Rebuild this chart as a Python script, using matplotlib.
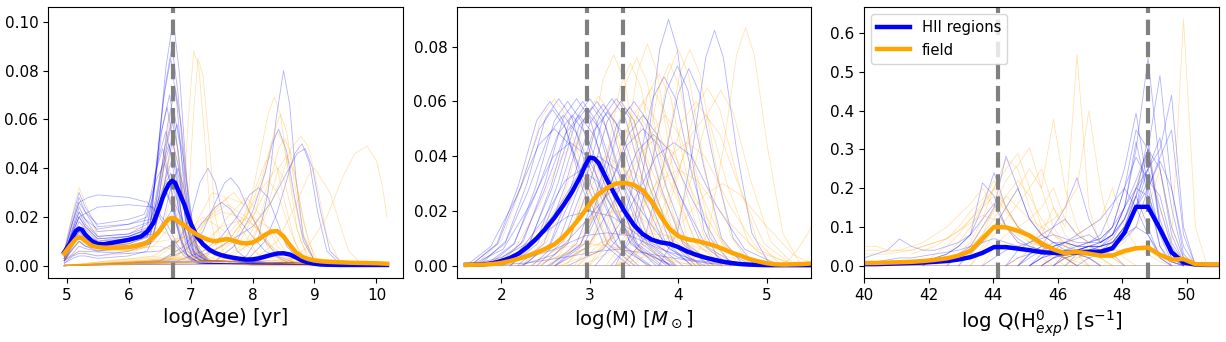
import matplotlib.pyplot as plt

# ---------------- log(Age) panel ----------------
age_x = [4.96, 5.05, 5.1, 5.15, 5.2, 5.25, 5.3, 5.4, 5.5, 5.6, 5.8, 6.0, 6.2, 6.3, 6.4, 6.5,
         6.55, 6.6, 6.65, 6.7, 6.75, 6.8, 6.9, 7.0, 7.1, 7.2, 7.3, 7.4, 7.5, 7.6, 7.7, 7.8,
         7.9, 8.0, 8.1, 8.2, 8.3, 8.4, 8.5, 8.6, 8.7, 8.8, 8.9, 9.0, 9.1, 9.2, 9.4, 9.6,
         9.8, 10.0, 10.17]
age_hii = [.0055, .009, .012, .0143, .0152, .0147, .0128, .0102, .0089, .0088, .0097, .0106,
           .0120, .0140, .0175, .0240, .0280, .0310, .0335, .0348, .0340, .0310, .0250, .0175,
           .0120, .0088, .0066, .0052, .0043, .0037, .0032, .0028, .0025, .0026, .0030, .0037,
           .0044, .0050, .0051, .0046, .0034, .0021, .0013, .0008, .0005, .0004, .0003, .0003,
           .0003, .0003, .0003]
age_field = [.0050, .0080, .0095, .0110, .0116, .0113, .0102, .0083, .0076, .0074, .0074, .0076,
             .0086, .0096, .0118, .0143, .0160, .0178, .0192, .0196, .0192, .0182, .0165, .0145,
             .0128, .0115, .0105, .0100, .0106, .0109, .0102, .0094, .0091, .0095, .0108, .0126,
             .0140, .0142, .0120, .0085, .0055, .0037, .0027, .0021, .0018, .0016, .0014, .0012,
             .0011, .0010, .0008]
age_lines = [6.71]

age_hii_thin = [
    ([4.96, 5.1, 5.2, 5.3, 5.5, 6.0, 6.35, 6.47, 6.6, 6.72, 6.82, 6.94, 7.07, 7.27, 10.17],
     [.004, .016, .024, .019, .012, .013, .016, .045, .081, .101, .079, .035, .010, .002, 0]),
    ([4.96, 5.1, 5.2, 5.3, 5.5, 6.0, 6.35, 6.45, 6.58, 6.70, 6.80, 6.92, 7.05, 7.25, 10.17],
     [.003, .012, .018, .015, .010, .012, .015, .040, .072, .090, .070, .032, .009, .002, 0]),
    ([4.96, 5.1, 5.2, 5.3, 5.5, 6.0, 6.35, 6.43, 6.56, 6.68, 6.78, 6.90, 7.03, 7.23, 10.17],
     [.005, .019, .028, .022, .014, .015, .018, .038, .068, .085, .066, .030, .009, .002, 0]),
    ([4.96, 5.1, 5.2, 5.3, 5.5, 6.0, 6.35, 6.50, 6.63, 6.75, 6.85, 6.97, 7.10, 7.30, 10.17],
     [.002, .008, .012, .010, .008, .010, .014, .033, .058, .073, .057, .026, .007, .002, 0]),
    ([4.96, 5.1, 5.2, 5.3, 5.5, 6.0, 6.3, 6.40, 6.50, 6.62, 6.72, 6.84, 6.97, 7.17, 10.17],
     [.004, .015, .022, .017, .012, .013, .017, .030, .052, .065, .051, .023, .007, .002, 0]),
    ([4.96, 5.1, 5.2, 5.3, 5.5, 6.0, 6.35, 6.45, 6.58, 6.70, 6.80, 6.92, 7.05, 7.25, 10.17],
     [.003, .010, .015, .012, .009, .011, .014, .027, .048, .060, .047, .021, .006, .002, 0]),
    ([4.96, 5.1, 5.2, 5.3, 5.5, 6.0, 6.3, 6.38, 6.48, 6.60, 6.70, 6.82, 6.95, 7.15, 10.17],
     [.006, .021, .030, .024, .016, .017, .020, .028, .044, .055, .043, .020, .006, .002, 0]),
    ([4.96, 5.1, 5.2, 5.3, 5.5, 6.0, 6.3, 6.40, 6.53, 6.65, 6.75, 6.87, 7.00, 7.20, 10.17],
     [.002, .007, .010, .008, .007, .009, .012, .023, .040, .050, .039, .018, .005, .002, 0]),
    ([4.96, 5.1, 5.2, 5.3, 5.5, 6.0, 6.2, 6.30, 6.43, 6.55, 6.65, 6.77, 6.90, 7.10, 10.17],
     [.004, .014, .020, .016, .011, .012, .014, .022, .038, .048, .037, .017, .005, .002, 0]),
    ([4.96, 5.1, 5.2, 5.3, 5.5, 6.0, 6.35, 6.47, 6.60, 6.72, 6.82, 6.94, 7.07, 7.27, 10.17],
     [.003, .011, .016, .013, .010, .011, .013, .022, .036, .045, .035, .016, .005, .002, 0]),
    ([4.96, 5.1, 5.2, 5.35, 5.5, 6.0, 6.3, 6.5, 6.7, 6.9, 7.1, 10.17],
     [.006, .018, .026, .028, .029, .028, .026, .020, .010, .004, .001, 0]),
    ([4.96, 5.1, 5.2, 5.35, 5.5, 6.0, 6.4, 6.6, 6.8, 7.0, 7.2, 10.17],
     [.004, .014, .020, .022, .024, .025, .024, .018, .008, .003, .001, 0]),
    ([4.96, 5.1, 5.2, 5.3, 5.5, 6.0, 6.4, 6.55, 6.68, 6.80, 6.90, 7.02, 7.15, 7.35, 10.17],
     [.002, .005, .008, .007, .006, .008, .011, .018, .032, .040, .031, .014, .004, .001, 0]),
    ([4.96, 5.1, 5.2, 5.3, 5.5, 6.0, 6.35, 6.43, 6.56, 6.68, 6.78, 6.90, 7.03, 7.23, 10.17],
     [.001, .004, .005, .005, .004, .006, .009, .016, .028, .035, .027, .012, .004, .001, 0]),
    ([4.96, 5.1, 5.2, 5.3, 5.5, 6.0, 6.3, 6.38, 6.48, 6.60, 6.70, 6.82, 6.95, 7.15, 10.17],
     [.003, .010, .014, .012, .009, .010, .012, .018, .025, .030, .024, .012, .004, .001, 0]),
    ([4.96, 5.1, 5.2, 5.3, 5.5, 6.0, 6.35, 6.50, 6.63, 6.75, 6.85, 6.97, 7.10, 7.30, 10.17],
     [.002, .007, .010, .008, .006, .007, .009, .013, .020, .025, .020, .010, .003, .001, 0]),
    ([4.96, 5.1, 5.2, 5.3, 5.5, 6.0, 6.3, 6.41, 6.54, 6.66, 6.76, 6.88, 7.01, 7.21, 10.17],
     [.003, .013, .020, .016, .011, .012, .015, .031, .056, .070, .055, .025, .007, .002, 0]),
    ([4.96, 5.1, 5.2, 5.3, 5.5, 6.0, 6.35, 6.49, 6.62, 6.74, 6.84, 6.96, 7.09, 7.29, 10.17],
     [.003, .011, .016, .013, .009, .011, .013, .028, .050, .062, .048, .022, .006, .002, 0]),
    ([4.96, 5.1, 5.2, 5.3, 5.5, 6.0, 6.25, 6.33, 6.46, 6.58, 6.68, 6.80, 6.93, 7.13, 10.17],
     [.005, .018, .026, .022, .017, .019, .021, .026, .036, .042, .033, .016, .005, .001, 0]),
    ([4.96, 5.1, 5.2, 5.3, 5.5, 6.0, 6.35, 6.45, 6.58, 6.70, 6.80, 6.92, 7.05, 7.25, 10.17],
     [.002, .009, .013, .011, .008, .009, .012, .023, .042, .052, .041, .018, .005, .002, 0]),
    ([4.96, 5.1, 5.2, 5.3, 5.5, 6.0, 6.4, 6.53, 6.66, 6.78, 6.88, 7.00, 7.13, 7.33, 10.17],
     [.002, .009, .014, .011, .008, .010, .013, .026, .046, .058, .045, .020, .006, .002, 0]),
    ([4.96, 5.1, 5.2, 5.3, 5.5, 6.0, 6.35, 6.43, 6.56, 6.68, 6.78, 6.90, 7.03, 7.23, 10.17],
     [.004, .015, .022, .019, .015, .017, .019, .024, .032, .038, .030, .014, .004, .001, 0]),
    ([4.96, 5.1, 5.2, 5.3, 5.5, 6.0, 6.3, 6.40, 6.50, 6.62, 6.72, 6.84, 6.97, 7.17, 10.17],
     [.001, .003, .004, .004, .003, .004, .006, .012, .024, .030, .024, .011, .003, .001, 0]),
    ([4.96, 7.6, 7.9, 8.1, 8.25, 8.38, 8.5, 8.6, 8.7, 8.82, 9.0, 10.17],
     [0, .001, .004, .012, .030, .060, .080, .066, .036, .012, .002, 0]),
    ([4.96, 7.4, 7.7, 8.0, 8.2, 8.32, 8.42, 8.55, 8.68, 8.82, 9.0, 10.17],
     [0, .002, .008, .022, .038, .050, .056, .047, .028, .010, .002, 0]),
    ([4.96, 7.9, 8.2, 8.4, 8.55, 8.68, 8.8, 8.92, 9.05, 9.2, 9.4, 10.17],
     [0, .002, .010, .022, .035, .046, .050, .042, .022, .006, .001, 0]),
    ([4.96, 7.0, 7.5, 8.0, 8.3, 8.55, 8.72, 8.85, 8.97, 9.1, 9.25, 9.45, 10.17],
     [0, .002, .008, .016, .026, .038, .046, .048, .040, .022, .006, .001, 0]),
    ([4.96, 5.2, 6.0, 6.5, 6.8, 7.0, 7.15, 7.28, 7.4, 7.55, 7.75, 8.0, 10.17],
     [.002, .006, .005, .006, .010, .020, .034, .040, .034, .018, .006, .001, 0]),
    ([4.96, 6.5, 6.9, 7.2, 7.4, 7.55, 7.65, 7.78, 7.95, 8.15, 8.4, 8.7, 10.17],
     [0, .002, .006, .014, .026, .034, .036, .032, .022, .012, .004, .001, 0]),
    ([4.96, 6.8, 7.2, 7.5, 7.75, 7.95, 8.1, 8.25, 8.4, 8.55, 8.8, 10.17],
     [0, .002, .006, .012, .020, .029, .032, .028, .018, .008, .001, 0]),
    ([4.96, 6.5, 6.9, 7.2, 7.4, 7.5, 7.65, 7.9, 8.2, 8.6, 10.17],
     [0, .002, .008, .018, .024, .026, .023, .015, .006, .001, 0]),
    ([4.96, 10.17], [.0005, .0005]),
]

age_field_thin = [
    ([4.96, 5.1, 5.2, 5.3, 5.5, 6.0, 6.5, 6.8, 7.2, 8.0, 10.17],
     [.006, .022, .032, .026, .012, .007, .008, .006, .002, 0, 0]),
    ([4.96, 5.1, 5.2, 5.3, 5.5, 6.0, 6.4, 6.6, 6.72, 6.85, 7.0, 7.4, 8.0, 10.17],
     [.004, .016, .025, .018, .010, .006, .008, .014, .020, .016, .010, .004, 0, 0]),
    ([4.96, 5.2, 5.5, 6.0, 6.3, 6.5, 6.63, 6.75, 6.85, 6.97, 7.1, 7.3, 10.17],
     [.002, .006, .004, .005, .008, .020, .055, .074, .058, .026, .008, .002, 0]),
    ([4.96, 5.2, 5.5, 6.0, 6.3, 6.47, 6.58, 6.70, 6.80, 6.92, 7.05, 7.25, 10.17],
     [.003, .012, .007, .006, .009, .022, .046, .060, .047, .021, .007, .002, 0]),
    ([4.96, 5.2, 5.5, 6.0, 6.25, 6.38, 6.48, 6.60, 6.70, 6.82, 6.95, 7.15, 10.17],
     [.003, .016, .009, .009, .012, .020, .034, .045, .035, .016, .006, .002, 0]),
    ([4.96, 5.2, 5.5, 6.0, 6.3, 6.5, 6.6, 6.72, 6.82, 6.94, 7.07, 7.27, 10.17],
     [.002, .010, .006, .006, .008, .018, .038, .050, .039, .018, .006, .002, 0]),
    ([4.96, 5.2, 5.5, 6.0, 6.4, 6.58, 6.68, 6.8, 6.9, 7.02, 7.15, 7.35, 10.17],
     [.003, .014, .008, .008, .010, .018, .028, .035, .028, .014, .005, .002, 0]),
    ([4.96, 6.5, 6.75, 6.88, 6.97, 7.05, 7.13, 7.22, 7.32, 7.45, 10.17],
     [0, .001, .006, .025, .062, .088, .082, .055, .020, .003, 0]),
    ([4.96, 6.6, 6.85, 6.97, 7.05, 7.12, 7.2, 7.3, 7.4, 7.55, 10.17],
     [0, .001, .008, .030, .063, .085, .078, .050, .020, .003, 0]),
    ([4.96, 7.3, 7.7, 7.95, 8.12, 8.25, 8.35, 8.45, 8.57, 8.72, 8.9, 10.17],
     [0, .002, .010, .024, .045, .062, .069, .062, .040, .015, .002, 0]),
    ([4.96, 7.4, 7.8, 8.05, 8.22, 8.35, 8.45, 8.55, 8.67, 8.82, 9.0, 10.17],
     [0, .002, .010, .022, .040, .055, .062, .055, .035, .013, .002, 0]),
    ([4.96, 7.2, 7.6, 7.9, 8.15, 8.3, 8.4, 8.5, 8.62, 8.78, 8.95, 10.17],
     [0, .003, .010, .020, .036, .050, .055, .050, .034, .014, .003, 0]),
    ([4.96, 7.5, 7.9, 8.15, 8.3, 8.42, 8.52, 8.62, 8.75, 8.9, 9.05, 10.17],
     [0, .002, .010, .022, .036, .048, .052, .046, .028, .010, .002, 0]),
    ([4.96, 7.0, 7.5, 7.85, 8.05, 8.2, 8.3, 8.4, 8.52, 8.68, 8.85, 10.17],
     [0, .003, .010, .020, .032, .042, .045, .040, .026, .010, .002, 0]),
    ([4.96, 7.2, 7.7, 8.0, 8.2, 8.3, 8.4, 8.5, 8.62, 8.78, 8.95, 10.17],
     [0, .004, .010, .020, .030, .037, .040, .036, .024, .010, .002, 0]),
    ([4.96, 7.2, 7.6, 7.9, 8.1, 8.25, 8.4, 8.6, 8.8, 10.17],
     [0, .003, .010, .020, .030, .035, .030, .015, .003, 0]),
    ([4.96, 7.6, 8.0, 8.25, 8.42, 8.55, 8.68, 8.82, 9.0, 10.17],
     [0, .002, .010, .025, .040, .045, .038, .018, .003, 0]),
    ([4.96, 7.5, 7.9, 8.2, 8.45, 8.62, 8.78, 8.9, 9.05, 9.2, 9.4, 10.17],
     [0, .002, .008, .020, .035, .048, .053, .049, .032, .012, .002, 0]),
    ([4.96, 8.0, 8.4, 8.7, 8.9, 9.0, 9.1, 9.25, 9.4, 9.55, 9.75, 10.17],
     [0, .002, .010, .025, .037, .040, .036, .030, .018, .006, .001, 0]),
    ([4.96, 8.6, 8.9, 9.2, 9.45, 9.65, 9.85, 10.0, 10.1, 10.17],
     [0, .002, .008, .020, .036, .046, .049, .043, .032, .020]),
    ([4.96, 6.6, 6.9, 7.3, 7.6, 7.9, 8.2, 8.5, 10.17],
     [0, .002, .006, .020, .028, .025, .010, .001, 0]),
    ([4.96, 6.7, 7.0, 7.4, 7.7, 8.0, 8.3, 8.6, 10.17],
     [0, .003, .008, .024, .030, .020, .005, .001, 0]),
    ([4.96, 6.4, 6.8, 7.2, 7.5, 7.8, 8.1, 8.4, 8.7, 10.17],
     [0, .004, .010, .018, .022, .020, .015, .005, .001, 0]),
    ([4.96, 6.6, 7.0, 7.5, 8.0, 8.3, 8.6, 10.17],
     [0, .002, .005, .016, .020, .015, .003, 0]),
    ([4.96, 6.5, 6.9, 7.2, 7.5, 7.8, 8.2, 10.17],
     [0, .004, .012, .020, .015, .010, .003, 0]),
    ([4.96, 6.9, 7.3, 7.6, 7.9, 8.15, 8.4, 8.7, 10.17],
     [0, .003, .010, .020, .028, .020, .008, .001, 0]),
    ([4.96, 5.1, 5.2, 5.35, 5.5, 6.0, 6.4, 6.7, 7.0, 7.5, 8.0, 10.17],
     [.004, .012, .018, .015, .014, .015, .016, .012, .006, .002, 0, 0]),
    ([4.96, 5.2, 5.5, 6.0, 6.5, 7.0, 7.3, 7.6, 7.9, 8.3, 8.7, 10.17],
     [.003, .010, .008, .009, .010, .012, .020, .025, .020, .008, .001, 0]),
    ([4.96, 6.8, 7.1, 7.35, 7.55, 7.8, 8.1, 10.17],
     [0, .004, .018, .030, .028, .016, .004, 0]),
    ([4.96, 10.17], [.0005, .0005]),
]

# ---------------- log(M) panel ----------------
mass_x = [1.6, 1.8, 1.9, 2.0, 2.1, 2.2, 2.3, 2.4, 2.5, 2.6, 2.7, 2.8, 2.9, 2.95, 3.0, 3.05,
          3.1, 3.2, 3.3, 3.4, 3.5, 3.6, 3.7, 3.8, 3.9, 4.0, 4.1, 4.2, 4.3, 4.4, 4.5, 4.6,
          4.7, 4.8, 4.9, 5.0, 5.1, 5.2, 5.3, 5.4, 5.5]
mass_hii = [.0003, .0005, .0009, .0017, .0028, .0045, .0070, .0100, .0135, .0175, .0220, .0270,
            .0330, .0368, .0395, .0392, .0375, .0310, .0250, .0195, .0148, .0115, .0095, .0085,
            .0080, .0068, .0052, .0040, .0030, .0022, .0015, .0010, .0006, .0004, .0003, .0002,
            .0002, .0002, .0002, .0002, .0002]
mass_field = [.0003, .0004, .0006, .0010, .0017, .0026, .0036, .0048, .0062, .0078, .0105, .0140,
              .0180, .0203, .0225, .0245, .0262, .0285, .0300, .0302, .0295, .0275, .0235, .0182,
              .0135, .0108, .0097, .0091, .0083, .0074, .0062, .0048, .0037, .0025, .0016, .0009,
              .0005, .0004, .0005, .0006, .0008]
mass_lines = [2.97, 3.37]
mass_ticks = [2, 3, 4, 5]

mass_hii_thin = [
    ([1.65, 1.95, 2.19, 2.40, 2.55, 2.70, 2.91, 3.15, 3.45], [0, .008, .029, .053, .060, .053, .029, .008, 0]),
    ([1.75, 2.05, 2.29, 2.50, 2.65, 2.80, 3.01, 3.25, 3.55], [0, .009, .030, .054, .061, .054, .030, .009, 0]),
    ([1.60, 1.88, 2.17, 2.42, 2.60, 2.78, 3.03, 3.32, 3.68], [0, .007, .025, .044, .050, .044, .025, .007, 0]),
    ([1.85, 2.15, 2.39, 2.60, 2.75, 2.90, 3.11, 3.35, 3.65], [0, .008, .029, .053, .060, .053, .029, .008, 0]),
    ([1.81, 2.14, 2.40, 2.64, 2.80, 2.96, 3.20, 3.46, 3.79], [0, .008, .027, .048, .055, .048, .027, .008, 0]),
    ([1.95, 2.25, 2.49, 2.70, 2.85, 3.00, 3.21, 3.45, 3.75], [0, .009, .030, .054, .061, .054, .030, .009, 0]),
    ([2.02, 2.32, 2.56, 2.77, 2.92, 3.07, 3.28, 3.52, 3.82], [0, .008, .029, .053, .060, .053, .029, .008, 0]),
    ([1.99, 2.31, 2.57, 2.79, 2.95, 3.11, 3.33, 3.59, 3.91], [0, .008, .028, .050, .057, .050, .028, .008, 0]),
    ([2.10, 2.40, 2.64, 2.85, 3.00, 3.15, 3.36, 3.60, 3.90], [0, .009, .030, .054, .061, .054, .030, .009, 0]),
    ([2.18, 2.48, 2.72, 2.93, 3.08, 3.23, 3.44, 3.68, 3.98], [0, .008, .029, .053, .060, .053, .029, .008, 0]),
    ([2.25, 2.55, 2.79, 3.00, 3.15, 3.30, 3.51, 3.75, 4.05], [0, .008, .029, .052, .059, .052, .029, .008, 0]),
    ([2.35, 2.65, 2.89, 3.10, 3.25, 3.40, 3.61, 3.85, 4.15], [0, .009, .030, .054, .061, .054, .030, .009, 0]),
    ([2.45, 2.75, 2.99, 3.20, 3.35, 3.50, 3.71, 3.95, 4.25], [0, .008, .029, .053, .060, .053, .029, .008, 0]),
    ([2.55, 2.85, 3.09, 3.30, 3.45, 3.60, 3.81, 4.05, 4.35], [0, .008, .028, .051, .058, .051, .028, .008, 0]),
    ([1.71, 2.04, 2.30, 2.54, 2.70, 2.86, 3.10, 3.36, 3.69], [0, .008, .027, .048, .055, .048, .027, .008, 0]),
    ([2.52, 2.88, 3.17, 3.42, 3.60, 3.78, 4.03, 4.32, 4.68], [0, .007, .025, .044, .050, .044, .025, .007, 0]),
    ([2.61, 2.98, 3.28, 3.54, 3.72, 3.90, 4.16, 4.46, 4.83], [0, .007, .024, .042, .048, .042, .024, .007, 0]),
    ([3.29, 3.49, 3.65, 3.79, 3.89, 3.99, 4.13, 4.29, 4.49], [0, .013, .044, .079, .090, .079, .044, .013, 0]),
    ([3.78, 3.99, 4.16, 4.31, 4.41, 4.51, 4.66, 4.83, 5.04], [0, .012, .042, .076, .086, .076, .042, .012, 0]),
    ([3.24, 3.49, 3.69, 3.87, 3.99, 4.11, 4.29, 4.49, 4.74], [0, .010, .036, .064, .073, .064, .036, .010, 0]),
    ([3.37, 3.62, 3.82, 4.00, 4.12, 4.24, 4.42, 4.62, 4.87], [0, .010, .035, .063, .072, .063, .035, .010, 0]),
    ([3.06, 3.32, 3.53, 3.71, 3.84, 3.97, 4.15, 4.36, 4.62], [0, .010, .034, .061, .069, .061, .034, .010, 0]),
    ([2.60, 2.90, 3.14, 3.35, 3.50, 3.65, 3.86, 4.10, 4.40], [0, .008, .029, .053, .060, .053, .029, .008, 0]),
    ([1.65, 1.96, 2.21, 2.43, 2.58, 2.73, 2.95, 3.20, 3.51], [0, .008, .028, .050, .057, .050, .028, .008, 0]),
    ([1.89, 2.22, 2.48, 2.72, 2.88, 3.04, 3.28, 3.54, 3.87], [0, .008, .027, .048, .055, .048, .027, .008, 0]),
    ([2.10, 2.41, 2.66, 2.88, 3.03, 3.18, 3.40, 3.65, 3.96], [0, .008, .028, .051, .058, .051, .028, .008, 0]),
    ([2.24, 2.56, 2.82, 3.04, 3.20, 3.36, 3.58, 3.84, 4.16], [0, .008, .027, .049, .056, .049, .027, .008, 0]),
    ([2.40, 2.70, 2.94, 3.15, 3.30, 3.45, 3.66, 3.90, 4.20], [0, .009, .030, .054, .061, .054, .030, .009, 0]),
    ([1.64, 2.02, 2.32, 2.59, 2.78, 2.97, 3.24, 3.54, 3.92], [0, .006, .022, .040, .045, .040, .022, .006, 0]),
    ([1.90, 2.30, 2.62, 2.90, 3.10, 3.30, 3.58, 3.90, 4.30], [0, .006, .020, .035, .040, .035, .020, .006, 0]),
    ([2.61, 2.94, 3.20, 3.44, 3.60, 3.76, 4.00, 4.26, 4.59], [0, .008, .027, .048, .055, .048, .027, .008, 0]),
    ([2.75, 3.15, 3.47, 3.75, 3.95, 4.15, 4.43, 4.75, 5.15], [0, .006, .022, .040, .045, .040, .022, .006, 0]),
    ([1.60, 2.00, 2.40, 2.75, 3.00, 3.25, 3.60, 4.00, 4.50], [0, .003, .010, .018, .020, .018, .010, .003, 0]),
    ([1.70, 2.20, 2.60, 2.95, 3.20, 3.45, 3.80, 4.20, 4.70], [0, .002, .006, .011, .012, .011, .006, .002, 0]),
    ([1.80, 2.30, 2.70, 3.05, 3.30, 3.55, 3.90, 4.30, 4.80], [0, .001, .003, .005, .006, .005, .003, .001, 0]),
    ([1.85, 2.20, 2.48, 2.72, 2.90, 3.08, 3.32, 3.60, 3.95], [0, .005, .017, .031, .035, .031, .017, .005, 0]),
    ([2.20, 2.60, 2.92, 3.20, 3.40, 3.60, 3.88, 4.20, 4.60], [0, .004, .015, .026, .030, .026, .015, .004, 0]),
    ([1.60, 5.50], [.0003, .0003]),
]

mass_field_thin = [
    ([4.13, 4.34, 4.51, 4.66, 4.76, 4.86, 5.01, 5.18, 5.39], [0, .012, .043, .077, .087, .077, .043, .012, 0]),
    ([2.99, 3.21, 3.39, 3.54, 3.65, 3.76, 3.91, 4.09, 4.31], [0, .011, .040, .071, .081, .071, .040, .011, 0]),
    ([3.31, 3.54, 3.72, 3.885, 4.00, 4.115, 4.28, 4.46, 4.69], [0, .011, .039, .070, .079, .070, .039, .011, 0]),
    ([3.44, 3.67, 3.85, 4.015, 4.13, 4.245, 4.41, 4.59, 4.82], [0, .011, .039, .070, .079, .070, .039, .011, 0]),
    ([2.57, 2.80, 2.99, 3.15, 3.27, 3.39, 3.55, 3.74, 3.97], [0, .011, .038, .068, .077, .068, .038, .011, 0]),
    ([2.73, 2.97, 3.17, 3.34, 3.46, 3.58, 3.75, 3.95, 4.19], [0, .010, .036, .065, .074, .065, .036, .010, 0]),
    ([2.83, 3.06, 3.25, 3.41, 3.53, 3.65, 3.81, 4.00, 4.23], [0, .011, .037, .067, .076, .067, .037, .011, 0]),
    ([3.49, 3.77, 3.99, 4.19, 4.33, 4.47, 4.67, 4.89, 5.17], [0, .009, .032, .057, .065, .057, .032, .009, 0]),
    ([3.64, 3.92, 4.14, 4.34, 4.48, 4.62, 4.82, 5.04, 5.32], [0, .009, .031, .056, .064, .056, .031, .009, 0]),
    ([3.32, 3.65, 3.91, 4.15, 4.31, 4.47, 4.71, 4.97, 5.30], [0, .008, .027, .048, .055, .048, .027, .008, 0]),
    ([3.00, 3.26, 3.47, 3.65, 3.78, 3.91, 4.09, 4.30, 4.56], [0, .010, .034, .062, .070, .062, .034, .010, 0]),
    ([2.86, 3.14, 3.36, 3.56, 3.70, 3.84, 4.04, 4.26, 4.54], [0, .009, .032, .057, .065, .057, .032, .009, 0]),
    ([1.70, 2.00, 2.24, 2.45, 2.60, 2.75, 2.96, 3.20, 3.50], [0, .009, .030, .054, .061, .054, .030, .009, 0]),
    ([2.23, 2.52, 2.75, 2.955, 3.10, 3.245, 3.45, 3.68, 3.97], [0, .009, .030, .055, .062, .055, .030, .009, 0]),
    ([2.56, 2.89, 3.15, 3.39, 3.55, 3.71, 3.95, 4.21, 4.54], [0, .008, .027, .048, .055, .048, .027, .008, 0]),
    ([2.70, 3.00, 3.24, 3.45, 3.60, 3.75, 3.96, 4.20, 4.50], [0, .008, .029, .053, .060, .053, .029, .008, 0]),
    ([2.32, 2.68, 2.97, 3.22, 3.40, 3.58, 3.83, 4.12, 4.48], [0, .007, .025, .044, .050, .044, .025, .007, 0]),
    ([2.86, 3.19, 3.45, 3.69, 3.85, 4.01, 4.25, 4.51, 4.84], [0, .008, .027, .048, .055, .048, .027, .008, 0]),
    ([3.30, 3.60, 3.84, 4.05, 4.20, 4.35, 4.56, 4.80, 5.10], [0, .008, .029, .053, .060, .053, .029, .008, 0]),
    ([2.62, 3.00, 3.30, 3.57, 3.76, 3.95, 4.22, 4.52, 4.90], [0, .007, .023, .041, .047, .041, .023, .007, 0]),
    ([2.90, 3.30, 3.62, 3.90, 4.10, 4.30, 4.58, 4.90, 5.30], [0, .006, .022, .040, .045, .040, .022, .006, 0]),
    ([5.10, 5.25, 5.35, 5.45, 5.50], [0, .002, .006, .011, .014]),
    ([3.18, 3.42, 3.61, 3.78, 3.90, 4.02, 4.19, 4.38, 4.62], [0, .010, .036, .065, .074, .065, .036, .010, 0]),
    ([2.45, 2.75, 2.99, 3.20, 3.35, 3.50, 3.71, 3.95, 4.25], [0, .008, .029, .053, .060, .053, .029, .008, 0]),
    ([2.00, 2.40, 2.72, 3.00, 3.20, 3.40, 3.68, 4.00, 4.40], [0, .006, .020, .035, .040, .035, .020, .006, 0]),
    ([2.65, 3.10, 3.46, 3.78, 4.00, 4.22, 4.54, 4.90, 5.35], [0, .005, .017, .031, .035, .031, .017, .005, 0]),
    ([1.75, 2.15, 2.47, 2.75, 2.95, 3.15, 3.43, 3.75, 4.15], [0, .004, .015, .026, .030, .026, .015, .004, 0]),
    ([1.80, 2.30, 2.70, 3.05, 3.30, 3.55, 3.90, 4.30, 4.80], [0, .003, .010, .018, .020, .018, .010, .003, 0]),
    ([1.95, 2.50, 2.94, 3.33, 3.60, 3.88, 4.26, 4.70, 5.25], [0, .002, .006, .011, .012, .011, .006, .002, 0]),
    ([1.60, 2.00, 2.40, 2.75, 3.00, 3.25, 3.60, 4.00, 4.50], [0, .001, .004, .007, .008, .007, .004, .001, 0]),
    ([2.40, 2.75, 3.03, 3.28, 3.45, 3.63, 3.87, 4.15, 4.50], [0, .005, .017, .031, .035, .031, .017, .005, 0]),
    ([3.30, 3.70, 4.02, 4.30, 4.50, 4.70, 4.98, 5.30, 5.50], [0, .004, .015, .026, .030, .026, .015, .004, .001]),
    ([1.80, 2.15, 2.43, 2.68, 2.85, 3.03, 3.27, 3.55, 3.90], [0, .006, .022, .040, .045, .040, .022, .006, 0]),
    ([1.60, 5.50], [.0003, .0003]),
]

# ---------------- log Q(H0) panel ----------------
q_x = [40.0, 40.37, 40.73, 41.1, 41.47, 41.83, 42.2, 42.57, 42.93, 43.3, 43.67, 44.03, 44.4,
       44.77, 45.13, 45.5, 45.87, 46.23, 46.6, 46.97, 47.33, 47.7, 48.07, 48.43, 48.8, 49.17,
       49.53, 49.9, 50.27, 50.63, 51.0]
q_hii = [.004, .004, .005, .006, .007, .008, .010, .012, .016, .022, .033, .048, .048, .044,
         .040, .035, .033, .032, .035, .036, .036, .045, .085, .152, .152, .095, .035, .008,
         .003, .002, .002]
q_field = [.007, .007, .008, .009, .010, .012, .015, .019, .026, .038, .070, .100, .099, .090,
           .078, .058, .042, .032, .036, .031, .026, .026, .038, .045, .047, .028, .016, .017,
           .004, .003, .003]
q_lines = [44.15, 48.79]

# (first grid index, values)
q_hii_thin = [
    (14, [0, .02, .03, .04, .04, .05, .05, .08, .15, .30, .536, .25, .08, .01, 0]),
    (15, [0, .02, .03, .04, .05, .05, .07, .12, .20, .30, .491, .20, .03, 0]),
    (16, [0, .02, .03, .03, .04, .06, .10, .15, .25, .30, .44, .10, 0]),
    (14, [0, .02, .03, .04, .05, .06, .08, .15, .25, .394, .20, .05, .01, 0]),
    (13, [0, .03, .05, .05, .06, .05, .06, .07, .10, .20, .35, .30, .10, .02, 0]),
    (12, [0, .02, .03, .04, .05, .06, .05, .05, .06, .08, .15, .22, .30, .12, .03, 0]),
    (15, [0, .02, .04, .04, .05, .05, .06, .10, .18, .25, .33, .15, .02, 0]),
    (14, [0, .03, .04, .06, .07, .08, .06, .10, .20, .28, .22, .08, .01, 0]),
    (10, [0, .02, .04, .05, .06, .07, .08, .07, .06, .06, .07, .10, .15, .20, .25, .15, .05, 0]),
    (16, [0, .03, .04, .05, .05, .06, .10, .15, .20, .27, .20, .05, 0]),
    (14, [0, .02, .05, .06, .08, .10, .12, .16, .20, .15, .08, .02, 0]),
    (13, [0, .03, .05, .10, .15, .227, .12, .06, .08, .15, .32, .18, .05, 0]),
    (5, [0, .02, .03, .05, .08, .15, .24, .15, .10, .08, .05, .04, .03, .03, .02, 0]),
    (5, [0, .02, .03, .05, .08, .214, .18, .10, .07, .05, .04, .03, .02, 0]),
    (7, [0, .03, .05, .10, .15, .283, .20, .12, .08, .06, .04, .03, .02, 0]),
    (0, [.02, .03, .04, .069, .05, .04, .04, .05, .06, .08, .12, .16, .10, .06, .05, .04, .03, .02, 0]),
    (8, [0, .03, .06, .10, .15, .20, .12, .08, .06, .05, .04, .05, .04, .03, 0]),
    (17, [0, .03, .04, .05, .06, .10, .18, .33, .10, .02, 0]),
    (18, [0, .02, .03, .05, .07, .10, .20, .28, .35, .08, 0]),
    (0, [.01, .01, .015, .02, .02, .025, .03, .035, .04, .05, .06, .07, .06, .05, .04, .03, .03,
         .03, .03, .04, .05, .06, .08, .10, .08, .03, .01, 0]),
    (12, [0, .04, .06, .08, .10, .12, .08, .06, .06, .08, .12, .18, .10, .02, 0]),
    (15, [0, .02, .03, .03, .04, .04, .05, .08, .15, .22, .18, .06, .01, 0]),
    (13, [0, .02, .04, .06, .06, .05, .05, .06, .08, .12, .20, .18, .10, .04, 0]),
    (16, [0, .02, .03, .03, .04, .05, .08, .15, .30, .25, .10, .02, 0]),
]
q_field_thin = [
    (16, [0, .02, .02, .03, .02, .03, .03, .04, .04, .05, .06, .636, .10, 0]),
    (12, [0, .02, .04, .08, .15, .10, .545, .15, .05, .02, 0]),
    (13, [0, .05, .10, .12, .15, .20, .40, .20, .05, .02, 0]),
    (9, [0, .05, .10, .15, .20, .25, .20, .378, .20, .10, .05, .02, 0]),
    (8, [0, .04, .08, .15, .22, .26, .305, .20, .10, .05, .03, 0]),
    (7, [0, .03, .06, .12, .20, .25, .29, .20, .10, .05, .02, 0]),
    (6, [0, .03, .06, .10, .15, .20, .275, .25, .15, .08, .04, .02, 0]),
    (4, [.03, .04, .05, .07, .10, .14, .17, .22, .15, .10, .06, .03, .02, 0]),
    (0, [.05, .05, .04, .04, .05, .06, .08, .10, .13, .16, .20, .15, .10, .06, .04, .02, 0]),
    (0, [.04, .04, .035, .04, .04, .05, .06, .07, .09, .12, .15, .18, .14, .10, .07, .05, .03,
         .02, .01, 0]),
    (15, [0, .02, .02, .03, .03, .04, .06, .10, .20, .30, .15, .05, .01, 0]),
    (17, [0, .02, .03, .03, .04, .06, .10, .15, .25, .10, .02, 0]),
    (9, [0, .04, .08, .12, .16, .20, .25, .15, .08, .05, .03, .02, 0]),
    (15, [0, .03, .05, .08, .10, .12, .20, .10, .05, .03, .01, 0]),
    (10, [0, .05, .08, .10, .12, .15, .20, .12, .08, .06, .04, .02, 0]),
    (7, [0, .02, .05, .08, .12, .18, .22, .18, .12, .08, .05, .03, 0]),
    (5, [0, .03, .05, .08, .12, .16, .20, .15, .10, .07, .05, .03, .02, 0]),
    (8, [0, .05, .10, .14, .18, .15, .12, .10, .08, .06, .04, .02, 0]),
    (0, [.03, .03, .03, .035, .04, .05, .06, .07, .09, .11, .13, .12, .10, .08, .06, .05, .04,
         .03, .03, .03, .03, .04, .04, .05, .04, .02, .01, 0]),
]
q_flat = [0.001, 0.001]


fig = plt.figure(figsize=(12.26, 3.42), dpi=100)
ax1 = fig.add_axes([0.0392, 0.1871, 0.2896, 0.7924])
ax2 = fig.add_axes([0.3728, 0.1871, 0.2887, 0.7924])
ax3 = fig.add_axes([0.7047, 0.1871, 0.2896, 0.7924])

thin_kw = dict(lw=0.6, alpha=0.3)
thick_lw = 3.2

# thin curves, one per object
for xs, ys in age_hii_thin:
    ax1.plot(xs, ys, color='blue', **thin_kw)
for xs, ys in age_field_thin:
    ax1.plot(xs, ys, color='orange', **thin_kw)
for xs, ys in mass_hii_thin:
    ax2.plot(xs, ys, color='blue', **thin_kw)
for xs, ys in mass_field_thin:
    ax2.plot(xs, ys, color='orange', **thin_kw)
for i0, ys in q_hii_thin:
    ax3.plot(q_x[i0:i0 + len(ys)], ys, color='blue', **thin_kw)
for i0, ys in q_field_thin:
    ax3.plot(q_x[i0:i0 + len(ys)], ys, color='orange', **thin_kw)
ax3.plot([q_x[0], q_x[-1]], q_flat, color='blue', **thin_kw)
ax3.plot([q_x[0], q_x[-1]], q_flat, color='orange', **thin_kw)

# dashed markers
for ax, vl in [(ax1, age_lines), (ax2, mass_lines), (ax3, q_lines)]:
    for v in vl:
        ax.axvline(v, color='gray', ls='--', lw=3)

# summed distributions
ax1.plot(age_x, age_hii, color='blue', lw=thick_lw)
ax1.plot(age_x, age_field, color='orange', lw=thick_lw)
ax2.plot(mass_x, mass_hii, color='blue', lw=thick_lw)
ax2.plot(mass_x, mass_field, color='orange', lw=thick_lw)
ax3.plot(q_x, q_hii, color='blue', lw=thick_lw, label='HII regions')
ax3.plot(q_x, q_field, color='orange', lw=thick_lw, label='field')

ax2.set_xlim(1.5, 5.5)
ax2.set_xticks(mass_ticks)
ax3.set_xlim(40, 51)

ax1.set_xlabel('log(Age) [yr]', fontsize=14.2)
ax2.set_xlabel(r'log(M) [$M_\odot$]', fontsize=14.2)
ax3.set_xlabel(r'log Q(H$^0_{exp}$) [s$^{-1}$]', fontsize=14.2)
for ax in (ax1, ax2, ax3):
    ax.tick_params(labelsize=11)

ax3.legend(loc='upper left', fontsize=10.6, handlelength=2.25)

plt.savefig('out.png', dpi=100)
